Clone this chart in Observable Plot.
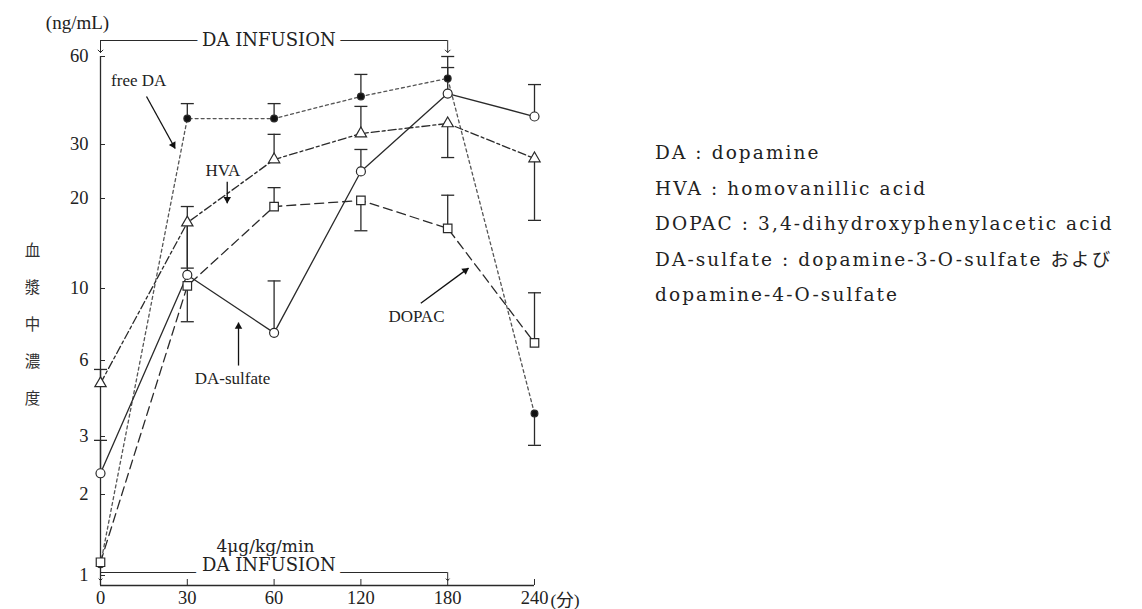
<!DOCTYPE html>
<html><head><meta charset="utf-8">
<script src="https://cdn.jsdelivr.net/npm/d3@7"></script>
<script src="https://cdn.jsdelivr.net/npm/@observablehq/plot@0.6"></script>
<style>
body{margin:0;background:#fff;}
#wrap{position:relative;width:1142px;height:609px;overflow:hidden;background:#fff;}
#chart{position:absolute;left:0;top:0;}
#legend{position:absolute;left:655px;top:135px;font-family:"DejaVu Serif","Noto Sans CJK JP",serif;font-size:18.5px;letter-spacing:2.1px;line-height:35.5px;color:#222;white-space:nowrap;}
</style></head>
<body><div id="wrap"><div id="chart"></div><div id="legend"></div></div>
<script>
// ---- data (ng/mL) ----
const times = [0, 30, 60, 120, 180, 240];
const yTicks = [1, 2, 3, 6, 10, 20, 30, 60];

const freeDA      = [1.1, 36.8, 36.8, 43.8, 50.5, 3.7];
const freeDAEnd   = [null, 41.4, 41.4, 52.1, 55.0, 2.82];
const hva         = [4.87, 16.6, 26.8, 32.7, 35.4, 27.0];
const hvaEnd      = [5.53, 11.7, 32.5, 40.5, 27.2, 16.9];
const daSulfate   = [2.32, 11.1, 7.3, 24.5, 44.8, 37.4];
const daSulfateEnd= [2.92, 18.8, 10.6, 28.9, 60.0, 48.1];
const dopac       = [1.12, 10.2, 18.8, 19.7, 15.9, 6.8];
const dopacEnd    = [null, 7.9, 21.7, 15.6, 20.5, 9.7];

const legendLines = [
  "DA : dopamine",
  "HVA : homovanillic acid",
  "DOPAC : 3,4-dihydroxyphenylacetic acid",
  "DA-sulfate : dopamine-3-O-sulfate および",
  "dopamine-4-O-sulfate"
];

// ---- build tables ----
const series = [
  {key: "DA-sulfate", values: daSulfate, ends: daSulfateEnd, symbol: "circle", r: 4.5, fill: "white", dash: null},
  {key: "HVA", values: hva, ends: hvaEnd, symbol: "triangle", r: 4.2, fill: "white", dash: "8,3,3,3"},
  {key: "DOPAC", values: dopac, ends: dopacEnd, symbol: "square", r: 4.8, fill: "white", dash: "9,5"},
  {key: "free DA", values: freeDA, ends: freeDAEnd, symbol: "circle", r: 3.4, fill: "#111", dash: "3,3"}
];
const rows = series.flatMap(s => times.map((t, i) => ({series: s.key, i, t, v: s.values[i], e: s.ends[i]})));
const errRows = rows.filter(d => d.e != null);

const W = 600, H = 609, mL = 100, mR = 66, mT = 56, mB = 24;
const ink = "#2a2a2a";
const serif = "Liberation Serif";
const wide = "DejaVu Serif";

// the original's hand-ruled log axis: calibrate the log scale piecewise on its tick marks
const yAxisCalibration = [575, 494, 436, 360, 288, 198, 144, 56];
const ys = d3.scaleLog().domain(yTicks).range(yAxisCalibration);
const xs = d3.scaleLinear([0, times.length - 1], [mL, W - mR]);
const yMin = ys.invert(H - mB);   // value at the bottom axis line
const yMax = yTicks[yTicks.length - 1];

const marks = [];
// axes lines
marks.push(Plot.ruleX([0], {stroke: ink, strokeWidth: 1.3}));
marks.push(Plot.ruleY([yMin], {stroke: ink, strokeWidth: 1.3}));
// inward ticks
marks.push(Plot.ruleY(yTicks, {stroke: ink, insetRight: W - mL - mR - 5}));
marks.push(Plot.ruleX(d3.range(1, times.length), {stroke: ink, insetTop: H - mT - mB - 6}));
marks.push(Plot.axisY({ticks: yTicks, tickFormat: d => d, tickSize: 0, tickPadding: 12, label: null, fontSize: 18.5, fontFamily: serif, fill: "#222"}));
marks.push(Plot.axisX({ticks: d3.range(times.length), tickFormat: i => times[i], tickSize: 0, tickPadding: 5, label: null, fontSize: 18.5, fontFamily: serif, fill: "#222"}));

// lines
for (const s of series.slice().reverse()) {
  marks.push(Plot.line(rows.filter(d => d.series === s.key), {x: "i", y: "v", stroke: s.key === "free DA" ? "#555" : ink, strokeWidth: 1.3, strokeDasharray: s.dash}));
}
// error bars
marks.push(Plot.ruleX(errRows, {x: "i", y1: "v", y2: "e", stroke: ink, strokeWidth: 1.3}));
marks.push(Plot.link(errRows, {x1: d => d.i - 0.075, x2: d => d.i + 0.075, y1: "e", y2: "e", stroke: ink, strokeWidth: 1.3}));
// markers
for (const s of series.slice().reverse()) {
  marks.push(Plot.dot(rows.filter(d => d.series === s.key), {x: "i", y: "v", symbol: s.symbol, r: s.r, fill: s.fill, stroke: ink, strokeWidth: 1.2}));
}

// infusion brackets
const infEnd = times.indexOf(180);
function haloText(label, o) {
  return [
    Plot.text([label], {...o, fill: "white", stroke: "white", strokeWidth: 14}),
    Plot.text([label], o)
  ];
}
marks.push(Plot.ruleY([yMax], {x1: 0, x2: infEnd, dy: -16, stroke: ink, strokeWidth: 1.2}));
marks.push(...haloText("DA INFUSION", {x: 1.94, y: yMax, dy: -16, fontSize: 18, fontFamily: wide, fill: "#222"}));
marks.push(Plot.vector([0, infEnd], {x: d => d, y: yMax, dy: -16, length: 12, rotate: 180, anchor: "start", stroke: ink, strokeWidth: 1}));

marks.push(Plot.ruleY([1], {x1: 0, x2: infEnd, dy: -3, stroke: ink, strokeWidth: 1.2}));
marks.push(...haloText("DA INFUSION", {x: 1.94, y: 1, dy: -10, fontSize: 18, fontFamily: wide, fill: "#222"}));
marks.push(Plot.text(["4μg/kg/min"], {x: 1.9, y: 1, dy: -29, fontSize: 17, fontFamily: wide, fill: "#222"}));
marks.push(Plot.vector([0, infEnd], {x: d => d, y: 1, dy: -3, length: 8, rotate: 180, anchor: "start", stroke: ink, strokeWidth: 1}));

// series annotations with filled arrowheads
const ann = {fontSize: 17, fontFamily: serif, fill: "#222"};
function pointer(x1, y1, x2, y2) {
  const px = xs(x2) - xs(x1), py = ys(y2) - ys(y1);
  const len = Math.hypot(px, py), ux = px / len, uy = py / len;
  const angle = Math.atan2(px, -py) * 180 / Math.PI;
  return [
    Plot.link([0], {x1, y1, x2, y2, stroke: "#111", strokeWidth: 1.3}),
    Plot.dot([0], {x: x2, y: y2, dx: -ux * 4, dy: -uy * 4, symbol: "triangle2", r: 3.6, rotate: angle, fill: "#111", stroke: "none"})
  ];
}
marks.push(Plot.text(["free DA"], {x: 0.44, y: 49.7, ...ann}));
marks.push(...pointer(0.53, 43.8, 0.86, 29.1));
marks.push(Plot.text(["HVA"], {x: 1.41, y: 24.7, ...ann}));
marks.push(...pointer(1.46, 22.7, 1.46, 19.3));
marks.push(Plot.text(["DA-sulfate"], {x: 1.52, y: 5.09, ...ann}));
marks.push(...pointer(1.59, 5.73, 1.59, 7.85));
marks.push(Plot.text(["DOPAC"], {x: 3.64, y: 8.2, ...ann}));
marks.push(...pointer(3.69, 9.0, 4.24, 11.7));

// units & axis title
marks.push(Plot.text(["(ng/mL)"], {frameAnchor: "top-left", textAnchor: "middle", lineAnchor: "middle", dx: -23, dy: -34, fontSize: 19, fontFamily: serif, fill: "#222"}));
marks.push(Plot.text(["(分)"], {x: times.length - 1, y: yMin, dx: 16, dy: 15, textAnchor: "start", lineAnchor: "middle", fontSize: 17.5, fontFamily: "Liberation Serif, Noto Sans CJK JP", fill: "#222"}));
marks.push(Plot.text(["血\n漿\n中\n濃\n度"], {frameAnchor: "left", textAnchor: "middle", dx: -68, dy: -3, lineHeight: 2.4, fontSize: 15.5, fontFamily: "Noto Sans CJK JP", fill: "#333"}));

const chart = Plot.plot({
  width: W, height: H,
  marginLeft: mL, marginRight: mR, marginTop: mT, marginBottom: mB,
  x: {type: "linear", domain: [0, times.length - 1], label: null},
  y: {type: "log", domain: yTicks, range: yAxisCalibration, label: null},
  style: {background: "transparent", overflow: "visible"},
  marks
});
document.getElementById("chart").append(chart);
document.getElementById("legend").innerHTML = legendLines.map(t => `<div>${t}</div>`).join("");
</script>
</body></html>
